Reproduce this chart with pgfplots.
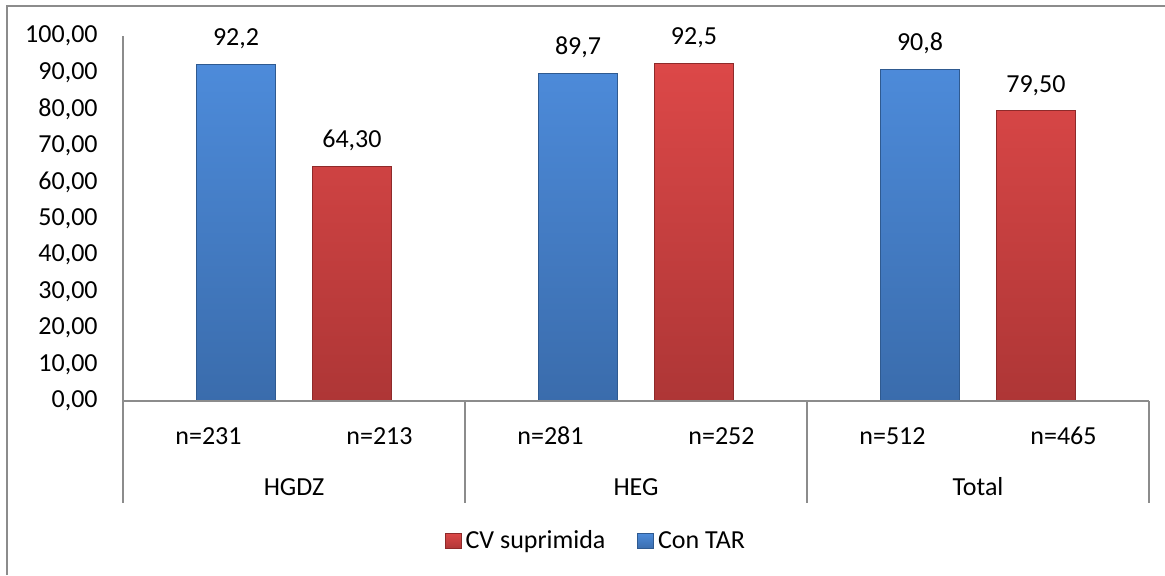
\documentclass[border=0pt]{standalone}
\usepackage{pgfplots}
\pgfplotsset{compat=1.18}
\usepackage{fontspec}
\setmainfont{Carlito}
\newcommand\sz{\fontsize{13pt}{15.6pt}\selectfont}
\definecolor{bluetop}{HTML}{4D8BDA}
\definecolor{bluebot}{HTML}{3A6CAC}
\definecolor{blueedge}{HTML}{2F5A90}
\definecolor{redtop}{HTML}{DC4848}
\definecolor{redbot}{HTML}{AE3636}
\definecolor{rededge}{HTML}{8E2A2A}
\definecolor{axgray}{HTML}{8C8C8C}

\pgfplotstableread{
x y lab
1.339 64.3 64,30
3.339 92.5 92,5
5.339 79.5 79,50
}\redtab
\pgfplotstableread{
x y lab
0.661 92.2 92,2
2.661 89.7 89,7
4.661 90.8 90,8
}\bluetab

\begin{document}
\begin{tikzpicture}
\path[use as bounding box, fill=white] (0,0) rectangle (582.5pt,287.5pt);
\draw[axgray, line width=1pt] (3.5pt,0pt) -- (3.5pt,284.5pt) -- (582.5pt,284.5pt);
\begin{axis}[
 at={(61.5pt,87pt)}, anchor=south west,
 scale only axis, width=513pt, height=182.5pt,
 xmin=0, xmax=6, ymin=0, ymax=100,
 axis line style={draw=none},
 major tick length=0pt,
 ytick={0,10,...,100},
 xtick={0.5,1.5,...,5.5},
 xticklabels={n=231,n=213,n=281,n=252,n=512,n=465},
 /pgf/number format/fixed,
 /pgf/number format/fixed zerofill,
 /pgf/number format/precision=2,
 /pgf/number format/use comma,
 /pgf/number format/assume math mode=true,
 yticklabel style={font=\sz, inner sep=0pt, anchor=east, xshift=-12.5pt},
 xticklabel style={font=\sz, inner sep=0pt, anchor=base, yshift=-21.7pt},
 clip=false,
 ybar, bar width=39.5pt, bar shift=0pt,
 nodes near coords, point meta=explicit symbolic,
 every node near coord/.append style={font=\sz, inner sep=0pt, anchor=base, yshift=9.3pt, text=black},
 legend style={draw=none, fill=none, at={(0.462,-0.384)}, anchor=center,
   legend columns=2, font=\sz,
   /tikz/every even column/.append style={column sep=14pt}},
 legend image code/.code={\path[#1] (0pt,-3.9pt) rectangle (7.8pt,3.9pt);},
]
\addplot[fill=redtop, top color=redtop, bottom color=redbot, draw=rededge, line width=0.5pt]
  table[x=x, y=y, meta=lab] {\redtab};
\addlegendentry{CV suprimida}
\addplot[fill=bluetop, top color=bluetop, bottom color=bluebot, draw=blueedge, line width=0.5pt]
  table[x=x, y=y, meta=lab] {\bluetab};
\addlegendentry{Con TAR}

\draw[axgray, line width=0.75pt] (axis cs:0,100) -- (axis cs:0,-27.9);
\draw[axgray, line width=0.75pt] (axis cs:0,0) -- (axis cs:6,0);
\draw[axgray, line width=0.75pt] (axis cs:2,0) -- (axis cs:2,-27.9);
\draw[axgray, line width=0.75pt] (axis cs:4,0) -- (axis cs:4,-27.9);
\draw[axgray, line width=0.75pt] (axis cs:6,0) -- (axis cs:6,-27.9);
\node[font=\sz, anchor=base, inner sep=0pt, yshift=-47pt] at (axis cs:1,0) {HGDZ};
\node[font=\sz, anchor=base, inner sep=0pt, yshift=-47pt] at (axis cs:3,0) {HEG};
\node[font=\sz, anchor=base, inner sep=0pt, yshift=-47pt] at (axis cs:5,0) {Total};
\end{axis}
\end{tikzpicture}
\end{document}
